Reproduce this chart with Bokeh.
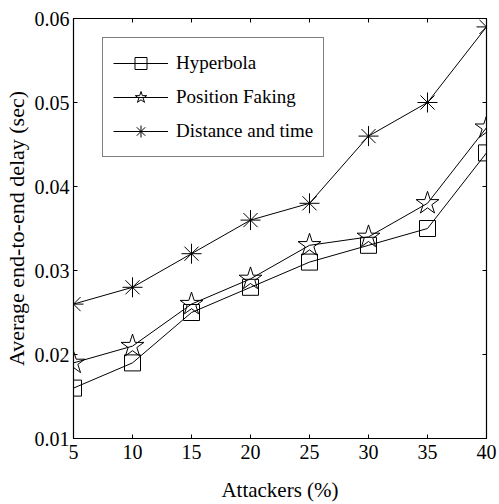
from bokeh.plotting import figure
from bokeh.models import LinearAxis, FixedTicker, Range1d, Legend, LegendItem
from bokeh.embed import file_html
from bokeh.resources import INLINE

attackers = [5, 10, 15, 20, 25, 30, 35, 40]
hyperbola = [0.016, 0.019, 0.025, 0.028, 0.031, 0.033, 0.035, 0.044]
position_faking = [0.019, 0.021, 0.026, 0.029, 0.033, 0.034, 0.038, 0.047]
distance_time = [0.026, 0.028, 0.032, 0.036, 0.038, 0.046, 0.050, 0.059]
x_ticks = [5, 10, 15, 20, 25, 30, 35, 40]
y_ticks = [0.01, 0.02, 0.03, 0.04, 0.05, 0.06]

FONT = "Liberation Serif"

p = figure(width=499, height=504, output_backend="svg", toolbar_location=None,
           x_range=Range1d(5, 40), y_range=Range1d(0.01, 0.06),
           min_border_left=73, min_border_right=13, min_border_top=18, min_border_bottom=66,
           background_fill_color="white", border_fill_color="white")
p.xgrid.visible = False
p.ygrid.visible = False
p.outline_line_color = "black"
p.outline_line_width = 1.2

for ax in (p.xaxis[0], p.yaxis[0]):
    ax.major_tick_in = 4
    ax.major_tick_out = 0
    ax.minor_tick_line_color = None
    ax.axis_line_color = "black"
    ax.major_tick_line_color = "black"
    ax.major_label_text_font = FONT
    ax.major_label_text_font_size = "20px"
    ax.major_label_text_color = "black"
    ax.axis_label_text_font = FONT
    ax.axis_label_text_font_style = "normal"
    ax.axis_label_text_color = "black"

p.xaxis[0].ticker = FixedTicker(ticks=x_ticks)
p.yaxis[0].ticker = FixedTicker(ticks=y_ticks)
p.xaxis[0].major_label_overrides = {5: "5", 10: "10", 15: "15", 20: "20", 25: "25", 30: "30", 35: "35", 40: "40"}
p.yaxis[0].major_label_overrides = {0.01: "0.01", 0.02: "0.02", 0.03: "0.03", 0.04: "0.04", 0.05: "0.05", 0.06: "0.06"}
p.xaxis[0].axis_label = "Attackers (%)"
p.xaxis[0].axis_label_text_font_size = "21px"
p.xaxis[0].major_label_standoff = 6
p.xaxis[0].axis_label_standoff = 16
p.yaxis[0].axis_label = "Average end-to-end delay (sec)"
p.yaxis[0].axis_label_text_font_size = "22px"
p.yaxis[0].major_label_standoff = 4
p.yaxis[0].axis_label_standoff = 3

top = LinearAxis(ticker=FixedTicker(ticks=x_ticks), major_tick_in=4, major_tick_out=0,
                 minor_tick_line_color=None, major_label_text_font_size="1px",
                 major_label_text_color=None, major_label_standoff=0, axis_line_color=None)
right = LinearAxis(ticker=FixedTicker(ticks=y_ticks), major_tick_in=4, major_tick_out=0,
                   minor_tick_line_color=None, major_label_text_font_size="1px",
                   major_label_text_color=None, major_label_standoff=0, axis_line_color=None)
p.add_layout(top, "above")
p.add_layout(right, "right")

l1 = p.line(attackers, hyperbola, line_color="black", line_width=1)
m1 = p.scatter(attackers, hyperbola, marker="square", size=16, fill_color=None, line_color="black", line_width=1)
l2 = p.line(attackers, position_faking, line_color="black", line_width=1)
m2 = p.scatter(attackers, position_faking, marker="star", size=24, fill_color=None, line_color="black", line_width=1)
l3 = p.line(attackers, distance_time, line_color="black", line_width=1)
m3 = p.scatter(attackers, distance_time, marker="asterisk", size=20, fill_color=None, line_color="black", line_width=1)

legend = Legend(items=[
    LegendItem(label="Hyperbola", renderers=[l1, m1]),
    LegendItem(label="Position Faking", renderers=[l2, m2]),
    LegendItem(label="Distance and time", renderers=[l3, m3]),
], location=(29, 281), orientation="vertical")
legend.label_text_font = FONT
legend.label_text_font_size = "19px"
legend.label_text_color = "black"
legend.glyph_width = 55
legend.glyph_height = 30
legend.label_height = 30
legend.spacing = 4
legend.padding = 10
legend.margin = 0
legend.label_standoff = 8
legend.border_line_color = "black"
legend.border_line_width = 1.2
legend.background_fill_color = "white"
legend.background_fill_alpha = 1
p.add_layout(legend, "center")

open("out.html", "w").write(file_html(p, INLINE))
